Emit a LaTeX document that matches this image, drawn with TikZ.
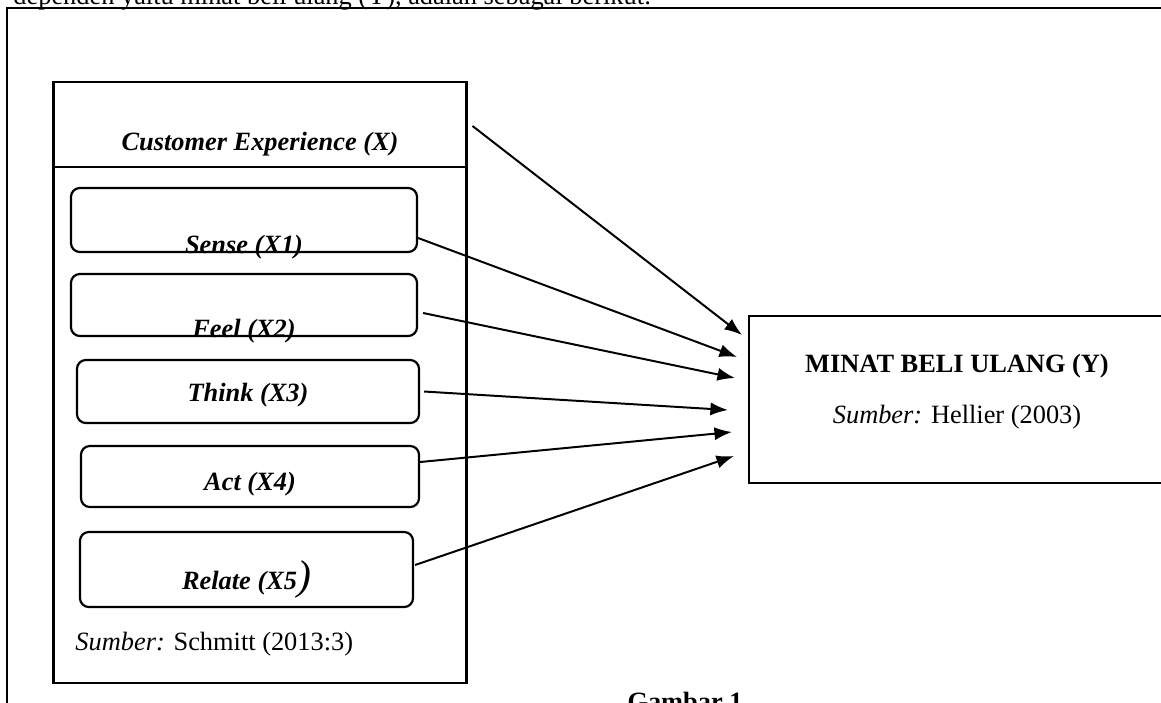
\documentclass[12pt,tikz,border=0pt]{standalone}
\usepackage{fontspec}
\setmainfont{Liberation Serif}
\usetikzlibrary{arrows.meta,positioning,calc}
\newcommand{\pxw}{0.455pt}
\newcommand{\bigparen}{{\fontsize{19}{19}\selectfont\mdseries\itshape )}}

\begin{document}
\begin{tikzpicture}[x=0.455pt,y=-0.455pt,
  box/.style={draw,line width=1pt,inner sep=0pt,outer sep=0pt},
  pill/.style={draw,line width=1pt,rounded corners=4pt,inner sep=0pt},
  lbl/.style={font=\bfseries\itshape,inner sep=0pt},
  arr/.style={-{Latex[length=8pt,width=6pt]},line width=0.9pt}]
\useasboundingbox (0,0) rectangle (1161,702);
\clip (0,0) rectangle (1161,702);
% page text and frame
\node[anchor=base west,inner sep=0pt] (intro) at (13,4) {dependen yaitu minat beli ulang (Y), adalah sebagai berikut:};
\draw[line width=1.1pt] (7,8) rectangle (1190,740);
% customer experience
\node[box,minimum width=413*\pxw,minimum height=85*\pxw] (hdr) at (260,124.5) {};
\node[box,minimum width=413*\pxw,minimum height=516*\pxw,below=0pt of hdr] (cxbody) {};
\node[lbl,anchor=base] (hdrtxt) at ([yshift=17*\pxw]hdr.south) {Customer Experience (X)};
\foreach \nm/\xa/\ya/\xb/\yb/\lift/\txt in {
  sense/71/188/417/252/0/{Sense (X1)},
  feel/71/274/417/336/0/{Feel (X2)},
  think/77/360/419/423/23/{Think (X3)},
  act/81/446/419/507/18/{Act (X4)},
  relate/80/532/413/607/19/{Relate (X5\bigparen}}
 {\node[pill,minimum width={(\xb-\xa)*\pxw},minimum height={(\yb-\ya)*\pxw}] (\nm) at ({(\xa+\xb)/2},{(\ya+\yb)/2}) {};
  \node[lbl,anchor=base] (\nm txt) at ([yshift=\lift*\pxw]\nm.south) {\txt};}
\node[anchor=base west,inner sep=0pt] (srcx) at ([shift={(21.5,-33)}]cxbody.south west) {\textit{Sumber:} Schmitt (2013:3)};
% minat beli ulang
\node[box,minimum width=440*\pxw,minimum height=167*\pxw] (beli) at (969,399.5) {};
\node[anchor=base,inner sep=0pt,font=\bfseries] (belitxt) at ([shift={(208,-27.5)}]beli.west) {MINAT BELI ULANG (Y)};
\node[anchor=base,inner sep=0pt] (srcy) at ([shift={(208,23.5)}]beli.west) {\textit{Sumber:} Hellier (2003)};
% arrows
\draw[arr] ([shift={(6,1.5)}]hdr.east) -- ([shift={(-7,-64.5)}]beli.west);
\draw[arr] ([shift={(0,18)}]sense.east) -- ([shift={(-12,-42.5)}]beli.west);
\draw[arr] ([shift={(5,8)}]feel.east) -- ([shift={(-14,-21.5)}]beli.west);
\draw[arr] ([shift={(4,0)}]think.east) -- ([shift={(-21,10.5)}]beli.west);
\draw[arr] ([shift={(0,-14.5)}]act.east) -- ([shift={(-17,32.5)}]beli.west);
\draw[arr] ([shift={(1,-4.5)}]relate.east) -- ([shift={(-15,56.5)}]beli.west);
% caption
\node[anchor=base,inner sep=0pt,font=\bfseries] (cap) at (685,710) {Gambar 1};
\end{tikzpicture}
\end{document}
